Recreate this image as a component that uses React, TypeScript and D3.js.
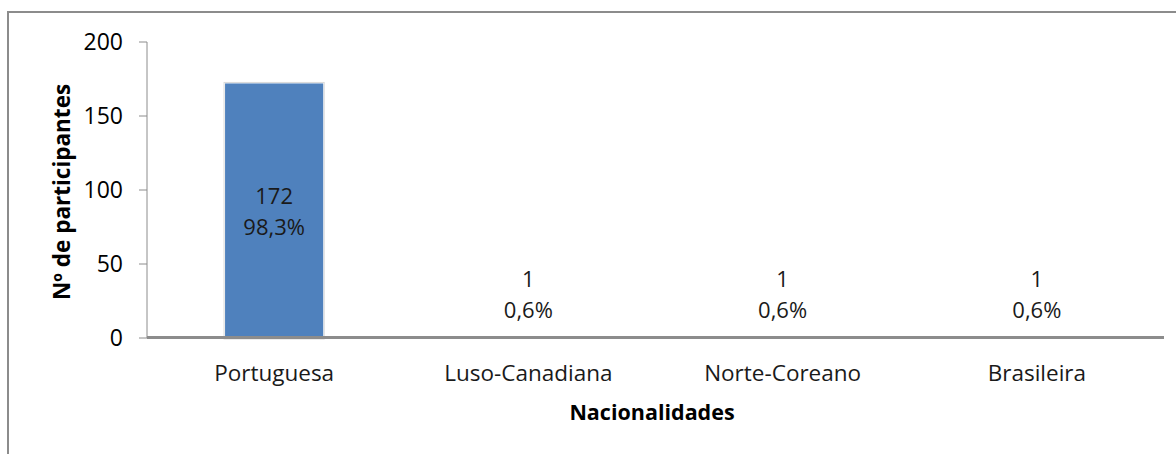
import React from "react";
import * as d3 from "d3";

const categories = ["Portuguesa", "Luso-Canadiana", "Norte-Coreano", "Brasileira"];
const counts = [172, 1, 1, 1];
const percents = ["98,3%", "0,6%", "0,6%", "0,6%"];
const yTicks = [0, 50, 100, 150, 200];

const W = 1176;
const H = 454;
const FONT = "'Open Sans', sans-serif";

export default function App() {
  const x = d3.scaleBand<string>().domain(categories).range([147, 1164]).paddingInner(0.614).paddingOuter(0.307);
  const y = d3.scaleLinear().domain([0, 200]).range([338, 42]);
  const x0 = 147;

  return (
    <svg width={W} height={H} style={{ position: "absolute", left: 0, top: 0 }}>
      <rect x={0} y={0} width={W} height={H} fill="#fff" />
      <rect x={8} y={12} width={W + 20} height={H + 20} fill="none" stroke="#8c8c8c" strokeWidth={2} />
      {/* y axis */}
      <line x1={x0} x2={x0} y1={y(200)} y2={y(0)} stroke="#8c8c8c" strokeWidth={1} />
      {yTicks.map((t) => (
        <g key={t}>
          <line x1={139} x2={x0} y1={y(t)} y2={y(t)} stroke="#8c8c8c" />
          <text x={123} y={y(t)} dy="0.36em" textAnchor="end" fontFamily={FONT} fontSize={23} fill="#000">
            {t}
          </text>
        </g>
      ))}
      {/* bars */}
      {categories.map((c, i) => {
        const bx = x(c)!;
        const bw = x.bandwidth();
        const top = y(counts[i]);
        const h = y(0) - top;
        const inside = h > 60;
        const cx = bx + bw / 2;
        const ly = inside ? (top + y(0)) / 2 : top - 42;
        return (
          <g key={c}>
            {inside && (
              <rect x={bx - 1} y={top - 1} width={bw + 2} height={h + 2} fill="none" stroke="#d9d9d9" strokeWidth={1} />
            )}
            <rect x={bx} y={top} width={bw} height={h} fill="#4F81BD" />
            <text x={cx} y={ly - 15} dy="0.36em" textAnchor="middle" fontFamily={FONT} fontSize={22} fill="#1a1a1a">
              {counts[i]}
            </text>
            <text x={cx} y={ly + 16} dy="0.36em" textAnchor="middle" fontFamily={FONT} fontSize={22} fill="#1a1a1a">
              {percents[i]}
            </text>
            <text x={cx} y={373} dy="0.36em" textAnchor="middle" fontFamily={FONT} fontSize={22.5} fill="#1a1a1a">
              {c}
            </text>
          </g>
        );
      })}
      {/* x axis */}
      <line x1={x0} x2={1164} y1={y(0) - 0.5} y2={y(0) - 0.5} stroke="#8c8c8c" strokeWidth={3} />
      <text x={652} y={412} dy="0.36em" textAnchor="middle" fontFamily={FONT} fontWeight="bold" fontSize={21.5} fill="#000">
        Nacionalidades
      </text>
      <text
        transform={`translate(62, 192) rotate(-90)`}
        dy="0.36em"
        textAnchor="middle"
        fontFamily={FONT}
        fontWeight="bold"
        fontSize={22.5}
        fill="#000"
      >
        Nº de participantes
      </text>
    </svg>
  );
}
